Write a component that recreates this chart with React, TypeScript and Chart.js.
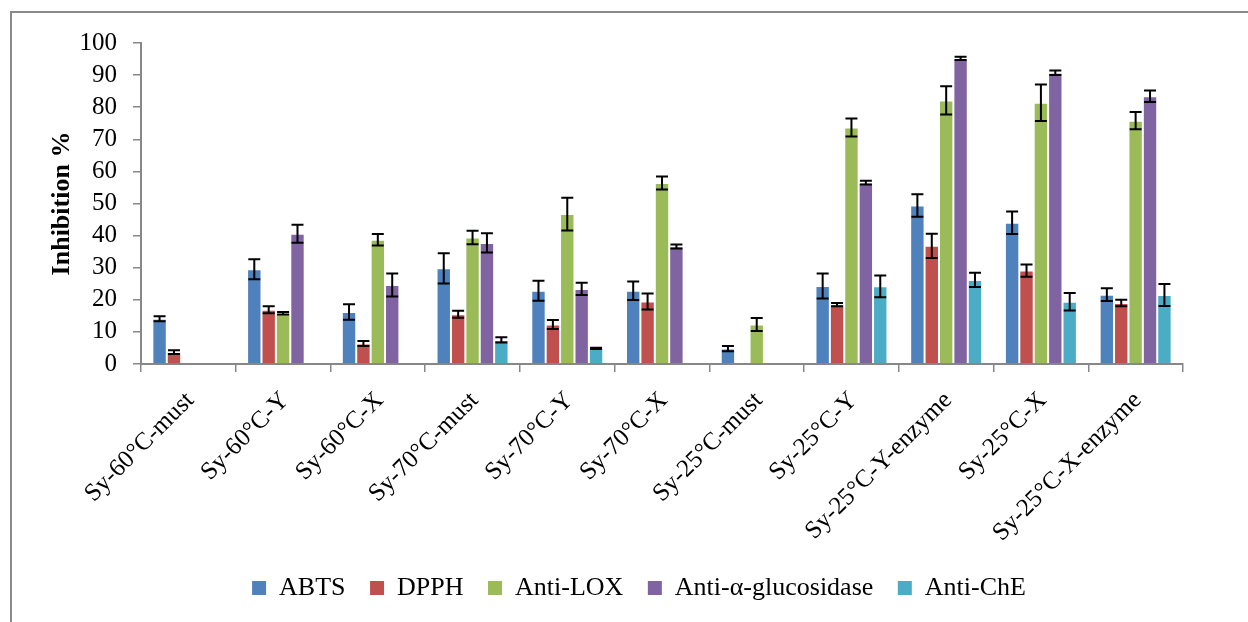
import React, { useEffect, useRef } from "react";
import { Chart, registerables } from "chart.js";

Chart.register(...registerables);

const categories = [
  "Sy-60°C-must",
  "Sy-60°C-Y",
  "Sy-60°C-X",
  "Sy-70°C-must",
  "Sy-70°C-Y",
  "Sy-70°C-X",
  "Sy-25°C-must",
  "Sy-25°C-Y",
  "Sy-25°C-Y-enzyme",
  "Sy-25°C-X",
  "Sy-25°C-X-enzyme",
];

const seriesNames = ["ABTS", "DPPH", "Anti-LOX", "Anti-α-glucosidase", "Anti-ChE"];

const abts = [14.1, 29.5, 16.2, 29.8, 22.8, 22.8, 4.8, 24.3, 49.4, 44.0, 21.6];
const abtsErr = [0.8, 3.1, 2.4, 4.7, 3.1, 2.9, 0.8, 3.9, 3.5, 3.5, 2.0];
const dpph = [3.7, 16.9, 6.4, 15.5, 12.3, 19.5, 0, 18.5, 36.8, 29.1, 19.0];
const dpphErr = [0.6, 1.1, 0.8, 1.1, 1.4, 2.5, 0, 0.5, 3.8, 1.9, 1.0];
const antiLox = [0, 15.8, 38.7, 39.4, 46.7, 56.4, 12.3, 73.7, 82.1, 81.4, 75.8];
const antiLoxErr = [0, 0.4, 1.8, 2.1, 5.1, 2.0, 2.0, 2.8, 4.4, 5.7, 2.7];
const antiGluco = [0, 40.6, 24.6, 37.7, 23.4, 36.6, 0, 56.5, 95.2, 90.7, 83.4];
const antiGlucoErr = [0, 2.8, 3.6, 3.0, 1.9, 0.6, 0, 0.6, 0.5, 0.7, 1.8];
const antiChe = [0, 0, 0, 7.5, 4.9, 0, 0, 24.2, 26.2, 19.4, 21.5];
const antiCheErr = [0, 0, 0, 0.8, 0.2, 0, 0, 3.4, 2.2, 2.7, 3.4];

const seriesValues = [abts, dpph, antiLox, antiGluco, antiChe];
const seriesErrors = [abtsErr, dpphErr, antiLoxErr, antiGlucoErr, antiCheErr];
const seriesColors = ["#4F81BD", "#C0504D", "#9BBB59", "#8064A2", "#4BACC6"];

const yTicks = [0, 10, 20, 30, 40, 50, 60, 70, 80, 90, 100];

const SERIF = '"Liberation Serif", "Times New Roman", serif';
const AXIS_GRAY = "#878787";

const errorBarPlugin = {
  id: "errorBars",
  afterDatasetsDraw(chart: any) {
    const ctx = chart.ctx;
    const yScale = chart.scales.y;
    chart.data.datasets.forEach((ds: any, di: number) => {
      const meta = chart.getDatasetMeta(di);
      const errs = seriesErrors[di];
      meta.data.forEach((bar: any, i: number) => {
        const v = ds.data[i];
        const e = errs[i];
        if (!v || !e) return;
        const yTop = yScale.getPixelForValue(v + e);
        const yBot = yScale.getPixelForValue(v - e);
        const x = bar.x;
        const half = 6;
        ctx.save();
        ctx.strokeStyle = "#000";
        ctx.lineWidth = 2;
        ctx.beginPath();
        ctx.moveTo(x, yTop);
        ctx.lineTo(x, yBot);
        ctx.moveTo(x - half, yTop);
        ctx.lineTo(x + half, yTop);
        ctx.moveTo(x - half, yBot);
        ctx.lineTo(x + half, yBot);
        ctx.stroke();
        ctx.restore();
      });
    });
  },
};

const framePlugin = {
  id: "frame",
  afterDraw(chart: any) {
    const ctx = chart.ctx;
    ctx.save();
    ctx.strokeStyle = "#8a8a8a";
    ctx.lineWidth = 2;
    ctx.beginPath();
    ctx.moveTo(11, 640);
    ctx.lineTo(11, 12);
    ctx.lineTo(1260, 12);
    ctx.stroke();
    ctx.restore();
  },
};

export default function App() {
  const canvasRef = useRef<HTMLCanvasElement | null>(null);

  useEffect(() => {
    if (!canvasRef.current) return;
    const chart = new Chart(canvasRef.current, {
      type: "bar",
      data: {
        labels: categories,
        datasets: seriesNames.map((name, i) => ({
          label: name,
          data: seriesValues[i],
          backgroundColor: seriesColors[i],
          borderColor: "rgba(255,255,255,0.45)",
          borderWidth: 1,
          categoryPercentage: 0.76,
          barPercentage: 1.0,
          yAxisID: "y",
        })),
      },
      options: {
        responsive: false,
        animation: false,
        layout: { padding: { left: 30, right: 0, top: 43, bottom: 11 } },
        plugins: {
          tooltip: { enabled: false },
          legend: {
            position: "bottom",
            labels: {
              font: { family: SERIF, size: 26 },
              color: "#000",
              boxWidth: 14,
              boxHeight: 14,
              padding: 24.5,
              generateLabels: (c: any) =>
                Chart.defaults.plugins.legend.labels
                  .generateLabels(c)
                  .map((l: any) => ({ ...l, lineWidth: 0, strokeStyle: "rgba(0,0,0,0)" })),
            },
          },
        },
        scales: {
          x: {
            grid: {
              display: true,
              drawOnChartArea: false,
              drawTicks: true,
              tickLength: 8,
              color: AXIS_GRAY,
              lineWidth: 1.5,
              offset: true,
            },
            border: { display: true, color: AXIS_GRAY, width: 2 },
            ticks: {
              autoSkip: false,
              minRotation: 45,
              maxRotation: 45,
              padding: 14,
              labelOffset: 2,
              color: "#000",
              font: { family: SERIF, size: 25 },
            },
            afterFit: (s: any) => {
              s.height = 186.5;
              // let the rotated labels run past the axis box, as in the original figure
              s._computeLabelArea = () => undefined;
            },
          },
          y: {
            min: 0,
            max: 100,
            afterBuildTicks: (s: any) => {
              s.ticks = yTicks.map((v) => ({ value: v }));
            },
            grid: {
              display: true,
              drawOnChartArea: false,
              drawTicks: true,
              tickLength: 8,
              color: AXIS_GRAY,
              lineWidth: 1.5,
            },
            border: { display: true, color: AXIS_GRAY, width: 2 },
            ticks: {
              autoSkip: false,
              padding: 16,
              color: "#000",
              font: { family: SERIF, size: 25 },
            },
            title: {
              display: true,
              text: "Inhibition %",
              color: "#000",
              font: { family: SERIF, size: 26, weight: "bold" },
              padding: { top: 16.4, bottom: 0 },
            },
            afterFit: (s: any) => {
              s.width = 111;
            },
          },
          yRight: {
            position: "right",
            display: true,
            grid: { display: false },
            border: { display: false },
            ticks: { display: false },
            afterFit: (s: any) => {
              s.width = 65;
            },
          },
        },
      },
      plugins: [errorBarPlugin, framePlugin],
    } as any);
    return () => chart.destroy();
  }, []);

  return (
    <div style={{ position: "fixed", left: 0, top: 0, width: 1248, height: 622, background: "#fff" }}>
      <canvas ref={canvasRef} width={1248} height={622} />
    </div>
  );
}
